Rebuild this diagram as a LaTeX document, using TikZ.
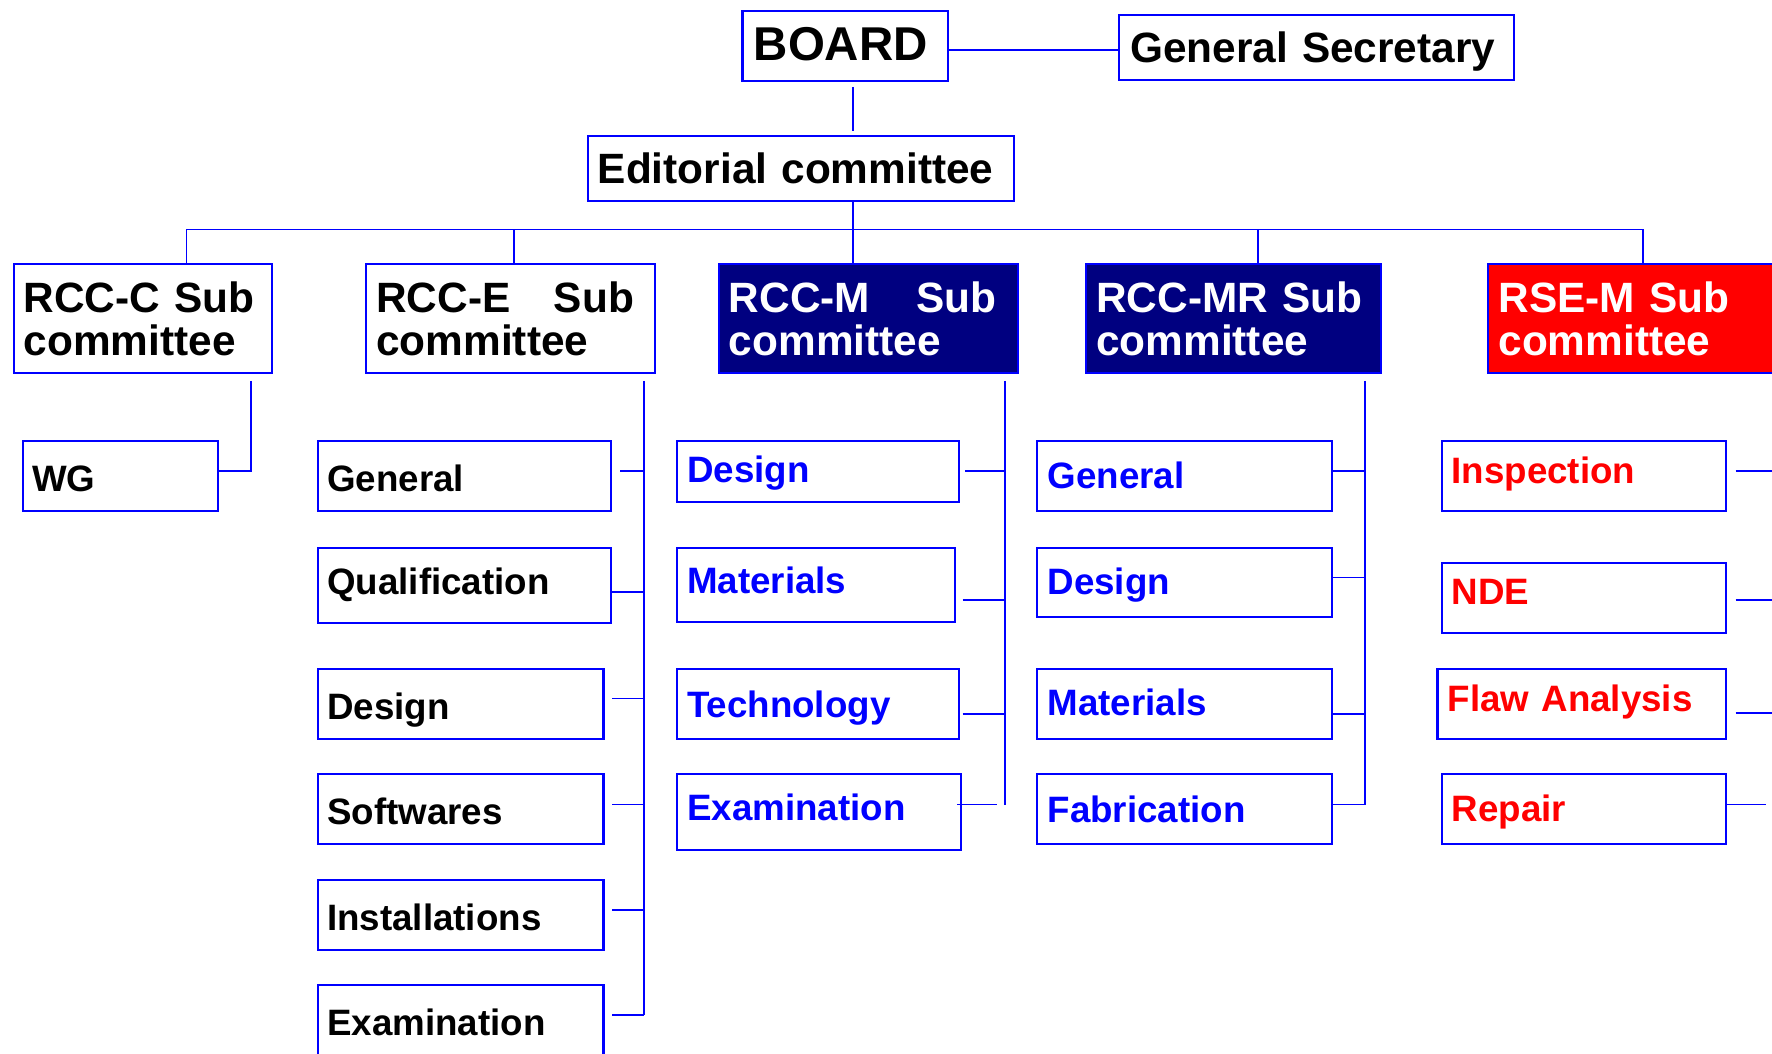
\documentclass[tikz,border=0pt]{standalone}
\usepackage{fontspec}
\setmainfont{Liberation Sans}
\usetikzlibrary{calc}
\definecolor{lineblue}{RGB}{0,0,255}
\definecolor{navyfill}{RGB}{0,0,128}
\definecolor{redfill}{RGB}{255,0,0}

% \mkbox[pad]{style}{name}{left}{top}{right}{bottom}{text}
\newcommand\mkbox[8][9]{%
  \pgfmathsetmacro\orgW{#6-#4}%
  \pgfmathsetmacro\orgH{#7-#5}%
  \pgfmathsetmacro\orgT{#6-#4-2*#1}%
  \pgfmathsetmacro\orgX{(#4+#6)/2}%
  \pgfmathsetmacro\orgY{(#5+#7)/2}%
  \node[#2, minimum width=\orgW pt, minimum height=\orgH pt, text width=\orgT pt]
    (#3) at (\orgX,\orgY) {#8};}

% horizontal tie from a box to a spine: box, gap, lift, spine
\newcommand\tie[4]{%
  \draw[link] ([xshift=#2pt,yshift=#3pt]#1.east) coordinate (tmp) -- (tmp -| #4);}

\begin{document}
\begin{tikzpicture}[x=1pt,y=-1pt,
  frame/.style={draw=lineblue, line width=1.8pt, inner xsep=0pt, inner ysep=0pt, align=left},
  link/.style={draw=lineblue, line width=1.5pt},
  topbox/.style={frame, font=\bfseries\fontsize{37.5}{40}\selectfont, text height=26.8pt, text depth=0pt},
  head/.style={frame, font=\bfseries\fontsize{37.5}{37.5}\selectfont},
  navyhead/.style={head, fill=navyfill, text=white},
  redhead/.style={head, fill=redfill, text=white},
  item/.style={frame, font=\bfseries\fontsize{32.5}{34}\selectfont, text height=23.3pt, text depth=0pt},
  itemE/.style={item, text=black, text height=27.3pt},
  itemM/.style={item, text=lineblue, text depth=4pt},
  itemR/.style={item, text=lineblue},
  itemS/.style={item, text=redfill, text depth=10pt}]

\useasboundingbox (0,0) rectangle (1568,932);
\clip (0,0) rectangle (1568,932);

% ---- top of the hierarchy
\mkbox[10]{topbox, font=\bfseries\fontsize{42}{44}\selectfont, text height=30pt, text depth=5pt}{board}{657}{10}{839}{72}{BOARD}
\mkbox[10]{topbox}{gensec}{990}{13}{1340}{71}{General Secretary}
\mkbox[9]{topbox}{edit}{520}{120}{897}{178}{Editorial committee}

% ---- sub committees
\mkbox[9]{head}{hC}{12}{234}{241}{330}{RCC-C Sub\\committee}
\mkbox[9]{head}{hE}{324}{234}{580}{330}{RCC-E\hskip 0pt plus 1fill Sub\rule{10pt}{0pt}\\committee}
\mkbox[9]{navyhead}{hM}{636}{234}{901}{330}{RCC-M\hskip 0pt plus 1fill Sub\rule{10pt}{0pt}\\committee}
\mkbox[9]{navyhead}{hMR}{961}{234}{1222}{330}{RCC-MR Sub\\committee}
\mkbox[9]{redhead}{hRSE}{1317}{234}{1610}{330}{RSE-M Sub\\committee}

% ---- working groups
\mkbox[8.5]{itemE}{wg}{20}{390}{193}{452}{WG}

\mkbox[8.5]{itemE}{eGen}{281}{390}{541}{452}{General}
\mkbox[8.5]{itemE, text height=23.3pt, text depth=8pt}{eQua}{281}{485}{541}{551}{Qualification}
\mkbox[8.5]{itemE}{eDes}{281}{592}{534}{654}{Design}
\mkbox[8.5]{itemE}{eSof}{281}{685}{534}{747}{Softwares}
\mkbox[8.5]{itemE}{eIns}{281}{779}{534}{841}{Installations}
\mkbox[8.5]{itemE}{eExa}{281}{872}{534}{934}{Examination}

\mkbox[9]{itemM}{mDes}{599}{390}{849}{444}{Design}
\mkbox[9]{itemM, text depth=8pt}{mMat}{599}{485}{845}{550}{Materials}
\mkbox[9]{itemM, text depth=0pt}{mTec}{599}{592}{849}{654}{Technology}
\mkbox[9]{itemM, text depth=8pt}{mExa}{599}{685}{850}{752}{Examination}

\mkbox[9]{itemR}{rGen}{918}{390}{1179}{452}{General}
\mkbox[9]{itemR, text depth=3pt}{rDes}{918}{485}{1179}{546}{Design}
\mkbox[9]{itemR, text depth=3pt}{rMat}{918}{592}{1179}{654}{Materials}
\mkbox[9]{itemR}{rFab}{918}{685}{1179}{747}{Fabrication}

\mkbox[8.5]{itemS}{sIns}{1276}{390}{1527}{452}{Inspection}
\mkbox[8.5]{itemS, text depth=12pt}{sNDE}{1276}{498}{1527}{560}{NDE}
\mkbox[9]{itemS, text depth=11pt}{sFla}{1272}{592}{1527}{654}{Flaw Analysis}
\mkbox[8.5]{itemS, text depth=2pt}{sRep}{1276}{685}{1527}{747}{Repair}

% ---- upper links
\draw[link] ([yshift=-3pt]board.east) coordinate (tmp) -- (tmp -| gensec.west);

\coordinate (b1) at (165,203);
\coordinate (b2) at (455,203);
\coordinate (b3) at (755,203);
\coordinate (b4) at (1113,203);
\coordinate (b5) at (1454,203);

\draw[link] ($(board.south -| b3)+(0,4)$) -- ($(edit.north -| b3)+(0,-3)$);
\draw[link] (edit.south -| b3) -- (b3);
\draw[link] (b1) -- (b5);
\foreach \b/\h in {b1/hC, b2/hE, b3/hM, b4/hMR, b5/hRSE}
  \draw[link] (\b) -- (\h.north -| \b);

% ---- RCC-C
\coordinate (sC) at (222,337);
\draw[link] (sC) |- ([yshift=4pt]wg.east);

% ---- RCC-E
\coordinate (sEt) at (570,337);
\coordinate (sEb) at (570,898);
\draw[link] (sEt) -- (sEb);
\tie{eGen}{7}{4}{sEt}
\tie{eQua}{0}{-6}{sEt}
\tie{eDes}{7}{5}{sEt}
\tie{eSof}{7}{4}{sEt}
\tie{eIns}{7}{5}{sEt}
\tie{eExa}{7}{5}{sEt}

% ---- RCC-M
\coordinate (sMt) at (889,337);
\coordinate (sMb) at (889,712);
\draw[link] (sMt) -- (sMb);
\tie{mDes}{4}{0}{sMt}
\tie{mMat}{6}{-13.5}{sMt}
\tie{mTec}{2}{-9}{sMt}
\draw[link, shorten >=7pt] ([xshift=-4pt,yshift=6.5pt]mExa.east) coordinate (tmp) -- (tmp -| sMt);

% ---- RCC-MR
\coordinate (sRt) at (1208,337);
\coordinate (sRb) at (1208,712);
\draw[link] (sRt) -- (sRb);
\tie{rGen}{0}{4}{sRt}
\tie{rDes}{0}{4.5}{sRt}
\tie{rMat}{-2}{-9}{sRt}
\tie{rFab}{0}{4}{sRt}

% ---- RSE-M
\coordinate (sS) at (1600,337);
\coordinate (sSr) at (1563,712);
\tie{sIns}{8}{4}{sS}
\tie{sNDE}{8}{-2}{sS}
\tie{sFla}{8}{-8}{sS}
\tie{sRep}{0}{4}{sSr}

\end{tikzpicture}
\end{document}
